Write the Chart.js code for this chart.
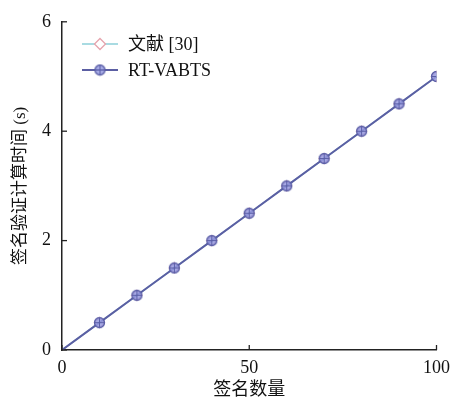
<!DOCTYPE html>
<html>
<head>
<meta charset="utf-8">
<script src="https://cdn.jsdelivr.net/npm/chart.js@4/dist/chart.umd.min.js"></script>
<style>
  html, body { margin: 0; padding: 0; background: #fff; }
  #wrap { width: 457px; height: 403px; }
</style>
</head>
<body>
<div id="wrap"><canvas id="chart" width="457" height="403"></canvas></div>
<script>
// 数据
const counts = [0, 10, 20, 30, 40, 50, 60, 70, 80, 90, 100];
const ref30Times = [0, 0.5, 1.0, 1.5, 2.0, 2.5, 3.0, 3.5, 4.0, 4.5, 5.0];
const rtVabtsTimes = [0, 0.5, 1.0, 1.5, 2.0, 2.5, 3.0, 3.5, 4.0, 4.5, 5.0];
const xTicks = [0, 50, 100];
const yTicks = [0, 2, 4, 6];
const seriesNames = ['文献 [30]', 'RT-VABTS'];

const FONT = '"Liberation Serif", "Noto Sans CJK SC", serif';

// 圆圈加十字的标记
function makeCrossCircle() {
    const c = document.createElement('canvas');
    c.width = 13; c.height = 13;
    const g = c.getContext('2d');
    g.beginPath();
    g.arc(6.5, 6.5, 5, 0, Math.PI * 2);
    g.fillStyle = 'rgba(150,155,225,0.85)';
    g.fill();
    g.lineWidth = 1.3;
    g.strokeStyle = '#5a5ea6';
    g.stroke();
    g.beginPath();
    g.moveTo(1.5, 6.5); g.lineTo(11.5, 6.5);
    g.moveTo(6.5, 1.5); g.lineTo(6.5, 11.5);
    g.lineWidth = 1;
    g.stroke();
    return c;
}
const crossCircle = makeCrossCircle();

const radii = counts.map((v, i) => i === 0 ? 0 : 5);

// 图例 + 朝内的刻度
const extras = {
    id: 'extras',
    afterDraw(chart) {
        const ctx = chart.ctx;
        const xs = chart.scales.x, ys = chart.scales.y;
        const area = chart.chartArea;
        ctx.save();
        ctx.strokeStyle = '#222';
        ctx.lineWidth = 1.3;
        xTicks.forEach(v => {
            const px = xs.getPixelForValue(v);
            ctx.beginPath(); ctx.moveTo(px, area.bottom); ctx.lineTo(px, area.bottom - 5); ctx.stroke();
        });
        yTicks.forEach(v => {
            const py = ys.getPixelForValue(v);
            ctx.beginPath(); ctx.moveTo(area.left, py); ctx.lineTo(area.left + 5, py); ctx.stroke();
        });

        const rows = [44, 70];
        chart.data.datasets.forEach((ds, i) => {
            const y = rows[i];
            ctx.beginPath();
            ctx.strokeStyle = ds.borderColor;
            ctx.lineWidth = ds.borderWidth;
            ctx.moveTo(82, y); ctx.lineTo(118, y);
            ctx.stroke();
            if (i === 0) {
                ctx.beginPath();
                ctx.moveTo(100, y - 5.5); ctx.lineTo(105.5, y); ctx.lineTo(100, y + 5.5); ctx.lineTo(94.5, y);
                ctx.closePath();
                ctx.fillStyle = '#fff'; ctx.fill();
                ctx.strokeStyle = ds.pointBorderColor; ctx.lineWidth = 1.3; ctx.stroke();
            } else {
                ctx.drawImage(crossCircle, 100 - 6.5, y - 6.5);
            }
            ctx.fillStyle = '#111';
            ctx.font = '18px ' + FONT;
            ctx.textBaseline = 'middle';
            ctx.fillText(ds.label, 128, y + 1);
        });
        ctx.restore();
    }
};

new Chart(document.getElementById('chart'), {
    type: 'line',
    data: {
        labels: counts,
        datasets: [
            {
                label: seriesNames[0],
                data: counts.map((x, i) => ({ x: x, y: ref30Times[i] })),
                borderColor: '#8ccfd9',
                borderWidth: 1.5,
                pointStyle: 'rectRot',
                pointRadius: radii,
                pointBackgroundColor: '#fff',
                pointBorderColor: '#e6a3ad',
                pointBorderWidth: 1.3,
                order: 2,
                fill: false
            },
            {
                label: seriesNames[1],
                data: counts.map((x, i) => ({ x: x, y: rtVabtsTimes[i] })),
                borderColor: '#5b5fa3',
                borderWidth: 2,
                pointStyle: crossCircle,
                pointRadius: radii,
                order: 1,
                fill: false
            }
        ]
    },
    options: {
        responsive: false,
        animation: false,
        layout: { padding: { top: 14, right: 17 } },
        plugins: {
            legend: { display: false },
            tooltip: { enabled: false }
        },
        scales: {
            x: {
                type: 'linear',
                min: 0, max: 100,
                afterBuildTicks: s => { s.ticks = xTicks.map(v => ({ value: v })); },
                afterFit: s => { s.height = 53; },
                grid: { drawOnChartArea: false, drawTicks: false },
                border: { display: true, color: '#222', width: 1.5 },
                ticks: { color: '#111', padding: 7, font: { family: FONT, size: 18 } },
                title: {
                    display: true, text: '签名数量', color: '#111',
                    font: { family: FONT, size: 18 }, padding: { top: 0, bottom: 2 }
                }
            },
            y: {
                min: 0, max: 6,
                afterBuildTicks: s => { s.ticks = yTicks.map(v => ({ value: v })); },
                afterFit: s => { s.width = 62; },
                grid: { drawOnChartArea: false, drawTicks: false },
                border: { display: true, color: '#222', width: 1.5 },
                ticks: { color: '#111', padding: 11, font: { family: FONT, size: 18 } },
                title: {
                    display: true, text: '签名验证计算时间 (s)', color: '#111',
                    font: { family: FONT, size: 17 }, padding: { top: 10, bottom: 0 }
                }
            }
        }
    },
    plugins: [extras]
});
</script>
</body>
</html>
